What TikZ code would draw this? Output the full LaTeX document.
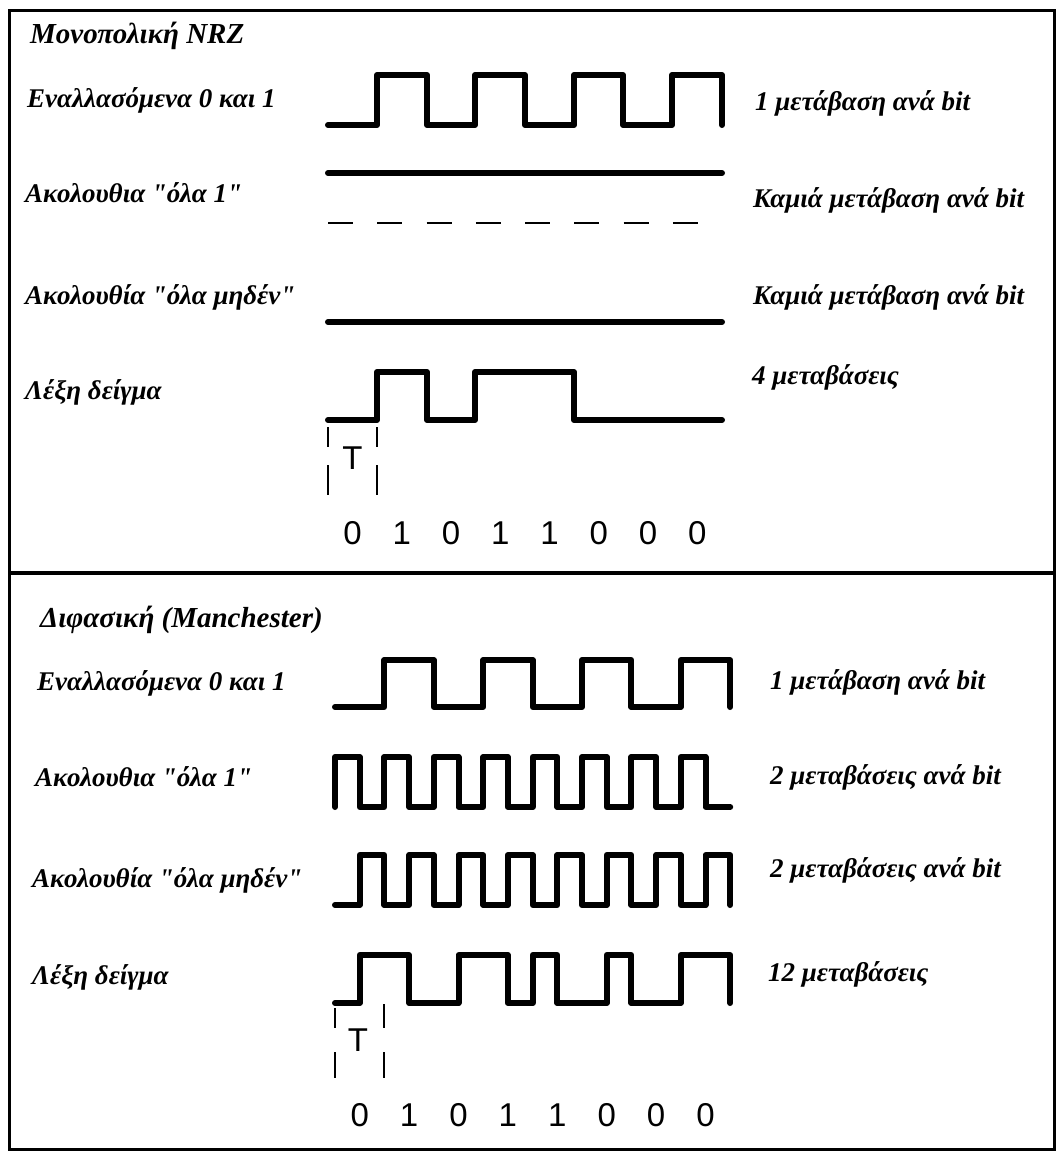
\documentclass[tikz,border=0pt]{standalone}
\usepackage{fontspec}
\setmainfont{Liberation Serif}[Ligatures=TeXOff]
\newfontfamily\digitfont{Liberation Sans}
\begin{document}
\begin{tikzpicture}[x=1pt,y=-1pt,
  wave/.style={line width=6pt, line cap=round, line join=round},
  tick/.style={line width=2.5pt},
  lbl/.style={anchor=west, inner sep=0pt, font=\fontsize{27}{30}\selectfont\bfseries\itshape},
  ttl/.style={anchor=west, inner sep=0pt, font=\fontsize{29}{32}\selectfont\bfseries\itshape},
  dig/.style={anchor=center, inner sep=0pt, font=\fontsize{33}{36}\digitfont}]
\fill[white] (0,0) rectangle (1061,1151);
\useasboundingbox (0,0) rectangle (1061,1151);
% frame
\draw[line width=3pt] (9,10) rectangle (1054,1149);
\draw[line width=3.5pt] (9,573) -- (1054,573);

% ---------- NRZ ----------
\node[ttl] (t1) at (30,36) {Μονοπολική NRZ};
\node[lbl] (a1) at (27,100) {Εναλλασόμενα 0 και 1};
\node[lbl] (b1) at (25,193) {Ακολουθια "όλα 1"};
\node[lbl] (c1) at (25,297) {Ακολουθία "όλα μηδέν"};
\node[lbl] (d1) at (25,392) {Λέξη δείγμα};
\node[lbl] (ra1) at (755,103) {1 μετάβαση ανά bit};
\node[lbl] (rb1) at (753,200) {Καμιά μετάβαση ανά bit};
\node[lbl] (rc1) at (753,297) {Καμιά μετάβαση ανά bit};
\node[lbl] (rd1) at (752,377) {4 μεταβάσεις};

\draw[wave] (328,125) -- (377,125) -- (377,75) -- (427,75) -- (427,125) -- (475,125) -- (475,75) -- (525,75) -- (525,125) -- (574,125) -- (574,75) -- (623,75) -- (623,125) -- (672,125) -- (672,75) -- (722,75) -- (722,125);
\draw[wave] (328,173) -- (722,173);
\draw[line width=2.5pt, dash pattern=on 25pt off 24.25pt] (328,223) -- (698,223);
\draw[wave] (328,322) -- (722,322);
\draw[wave] (328,420) -- (377,420) -- (377,372) -- (427,372) -- (427,420) -- (475,420) -- (475,372) -- (574,372) -- (574,420) -- (722,420);

\draw[tick] (328,427) -- (328,447) (328,465) -- (328,495);
\draw[tick] (377,427) -- (377,447) (377,465) -- (377,495);
\node[dig] (T1) at (352.5,458) {T};
\foreach \d [count=\i from 0] in {0,1,0,1,1,0,0,0}
  \node[dig] (n1\i) at (352.6+49.25*\i,533) {\d};

% ---------- Manchester ----------
\node[ttl] (t2) at (40,620) {Διφασική (Manchester)};
\node[lbl] (a2) at (37,683) {Εναλλασόμενα 0 και 1};
\node[lbl] (b2) at (35,777) {Ακολουθια "όλα 1"};
\node[lbl] (c2) at (32,880) {Ακολουθία "όλα μηδέν"};
\node[lbl] (d2) at (32,977) {Λέξη δείγμα};
\node[lbl] (ra2) at (770,682) {1 μετάβαση ανά bit};
\node[lbl] (rb2) at (770,777) {2 μεταβάσεις ανά bit};
\node[lbl] (rc2) at (770,870) {2 μεταβάσεις ανά bit};
\node[lbl] (rd2) at (768,974) {12 μεταβάσεις};

\draw[wave] (335,707) -- (384.4,707) -- (384.4,660) -- (433.8,660) -- (433.8,707) -- (483.2,707) -- (483.2,660) -- (532.6,660) -- (532.6,707) -- (582,707) -- (582,660) -- (631.4,660) -- (631.4,707) -- (680.8,707) -- (680.8,660) -- (730.2,660) -- (730.2,707);
\draw[wave] (335,807) foreach \k in {0,...,7} { -- ++(0,-50) -- ++(24.7,0) -- ++(0,50) -- ++(24.7,0) };
\draw[wave] (335,905) foreach \k in {0,...,7} { -- ++(24.7,0) -- ++(0,-50) -- ++(24.7,0) -- ++(0,50) };
\draw[wave] (335,1003) -- (359.7,1003) -- (359.7,955) -- (409.1,955) -- (409.1,1003) -- (458.5,1003) -- (458.5,955) -- (507.9,955) -- (507.9,1003) -- (532.6,1003) -- (532.6,955) -- (557.3,955) -- (557.3,1003) -- (606.7,1003) -- (606.7,955) -- (631.4,955) -- (631.4,1003) -- (680.8,1003) -- (680.8,955) -- (730.2,955) -- (730.2,1003);

\draw[tick] (335,1008) -- (335,1028) (335,1052) -- (335,1078);
\draw[tick] (384,1004) -- (384,1028) (384,1052) -- (384,1078);
\node[dig] (T2) at (358,1040) {T};
\foreach \d [count=\i from 0] in {0,1,0,1,1,0,0,0}
  \node[dig] (n2\i) at (359.7+49.4*\i,1115) {\d};
\end{tikzpicture}
\end{document}
